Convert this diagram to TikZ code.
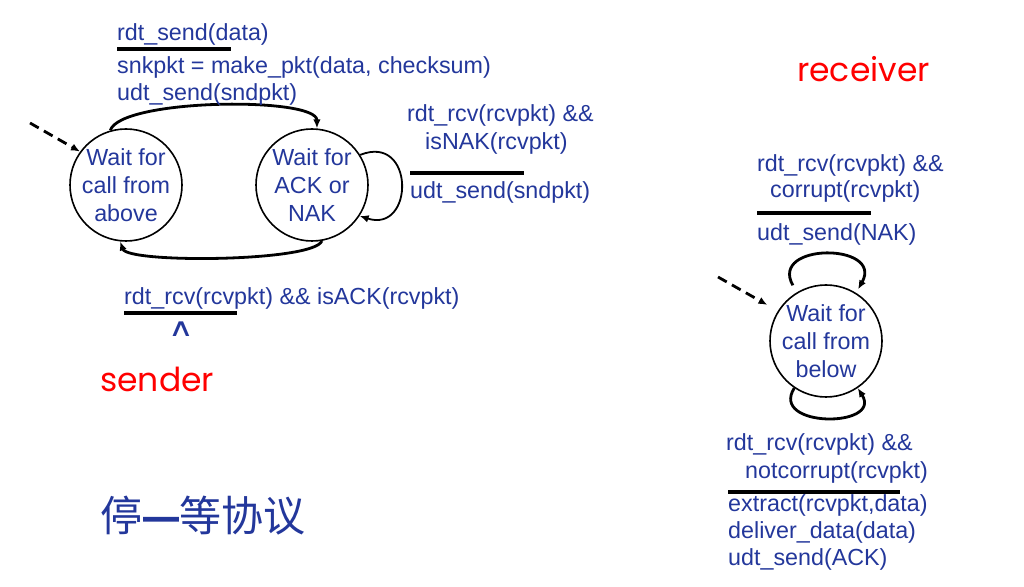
\documentclass[tikz,border=0pt]{standalone}
\usepackage{fontspec}
\setmainfont{Liberation Sans}
\newfontfamily\cjkfont{Noto Sans CJK SC}
\newfontfamily\cjkheavy[FakeBold=5]{Noto Sans CJK SC}
\newfontfamily\handfont{Poppins}
\newfontfamily\symfont{DejaVu Sans}
\usetikzlibrary{arrows.meta}
\definecolor{fsmblue}{RGB}{35,55,155}
\definecolor{fsmred}{RGB}{255,0,0}
\tikzset{
  state/.style={circle,draw,line width=1.6pt,minimum size=112pt,inner sep=0pt},
  statetext/.style={align=center,inner sep=0pt,text=fsmblue,font=\fontsize{23.3}{28}\selectfont},
  lbl/.style={anchor=base west,inner sep=0pt,text=fsmblue,font=\fontsize{23.3}{27}\selectfont},
  side/.style={anchor=base west,inner sep=0pt,text=fsmred,font=\handfont\fontsize{33}{38}\selectfont},
  arc/.style={line width=2.8pt,-{Latex[length=9pt,width=7.5pt]}},
  initarc/.style={arc,dash pattern=on 10pt off 6pt},
  rule/.style={line width=3.6pt}
}
\begin{document}
\begin{tikzpicture}[x=1pt,y=1pt]
\useasboundingbox (0,0) rectangle (1024,586);
\node[state,label={[statetext]center:{Wait for\\call from\\above}}] (wfa) at (126,401) {};
\node[state,label={[statetext]center:{Wait for\\ACK or\\NAK}}] (wak) at (312,401) {};
\node[state,label={[statetext]center:{Wait for\\call from\\below}}] (wfb) at (826,245) {};
\coordinate (sinit) at (30,463);
\coordinate (rinit) at (718,309);
\draw[initarc] (sinit) -- (wfa.144);
\draw[arc] (wfa.106) .. controls +(10,32) and +(0,32) .. (wak.85);
\draw[arc] (wak.280) .. controls +(-8,-21) and +(8,-22) .. (wfa.264);
\draw[arc,line width=1.8pt] (wak.32) .. controls +(55,22) and +(55,-18) .. (wak.-33);
\draw[initarc,shorten >=12pt] (rinit) -- (wfb.148);
\draw[arc,shorten <=8pt,shorten >=4pt] (wfb.121) .. controls +(-28,50) and +(28,50) .. (wfb.58);
\draw[arc] (wfb.236) .. controls +(-25,-40) and +(25,-40) .. (wfb.304);
\node[lbl] (sendev) at (117,545) {rdt\_send(data)};
\draw[rule] (117,537) -- (231,537);
\node[lbl] (sendact1) at (117,512) {snkpkt = make\_pkt(data, checksum)};
\node[lbl] (sendact2) at (117,485) {udt\_send(sndpkt)};
\node[lbl] (nakev1) at (407,464) {rdt\_rcv(rcvpkt) \&\&};
\node[lbl] (nakev2) at (425,436) {isNAK(rcvpkt)};
\draw[rule] (410,413) -- (524,413);
\node[lbl] (nakact) at (410,387) {udt\_send(sndpkt)};
\node[lbl] (ackev) at (124,281) {rdt\_rcv(rcvpkt) \&\& isACK(rcvpkt)};
\draw[rule] (124,273) -- (237,273);
\node[lbl,anchor=center,font=\symfont\fontsize{22}{26}\selectfont] (ackact) at (181,257) {\scalebox{1.6}[1.15]{∧}};
\node[side] (sender) at (100,194) {sender};
\node[side] (receiver) at (797,504) {receiver};
\node[lbl,font=\cjkfont\fontsize{42}{48}\selectfont] (title) at (100,55) {停{\cjkheavy —}等协议};
\node[lbl] (corev1) at (757,414) {rdt\_rcv(rcvpkt) \&\&};
\node[lbl] (corev2) at (770,388) {corrupt(rcvpkt)};
\draw[rule] (757,373) -- (871,373);
\node[lbl] (coract) at (757,345) {udt\_send(NAK)};
\node[lbl] (okev1) at (726,135) {rdt\_rcv(rcvpkt) \&\&};
\node[lbl] (okev2) at (745,107) {notcorrupt(rcvpkt)};
\draw[rule] (728,94) -- (900,94);
\node[lbl] (okact1) at (728,75) {extract(rcvpkt,data)};
\node[lbl] (okact2) at (728,48) {deliver\_data(data)};
\node[lbl] (okact3) at (728,21) {udt\_send(ACK)};
\end{tikzpicture}
\end{document}
